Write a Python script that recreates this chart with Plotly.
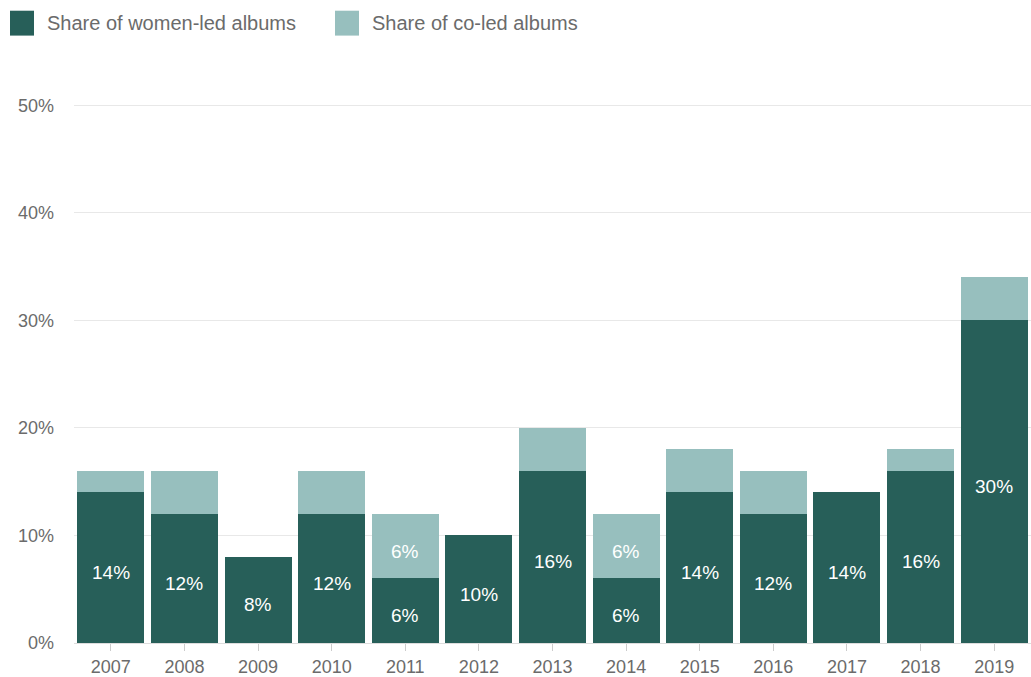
import plotly.graph_objects as go

years = ["2007", "2008", "2009", "2010", "2011", "2012", "2013",
         "2014", "2015", "2016", "2017", "2018", "2019"]
women_led = [14, 12, 8, 12, 6, 10, 16, 6, 14, 12, 14, 16, 30]
co_led = [2, 4, 0, 4, 6, 0, 4, 6, 4, 4, 0, 2, 4]
co_led_labels = ["", "", "", "", "6%", "", "", "6%", "", "", "", "", ""]
series_names = ["Share of women-led albums", "Share of co-led albums"]
y_ticks = [0, 10, 20, 30, 40, 50]

DARK = "#275f59"
LIGHT = "#97bfbe"
GREY = "#6b6b6b"
FONT = "Liberation Sans, Arial, sans-serif"

fig = go.Figure()
fig.add_trace(go.Bar(
    x=years, y=women_led, name=series_names[0], marker_color=DARK,
    hoverinfo="x+y", marker_line_width=0,
))
fig.add_trace(go.Bar(
    x=years, y=co_led, name=series_names[1], marker_color=LIGHT,
    hoverinfo="x+y", marker_line_width=0,
))

PL, PR, PT, PB = 74, 1031, 105, 645
Y_MAX = 50.4
pw = PR - PL
ph = (PB - PT) * Y_MAX / 50
top_px = PB - ph


def px_to_paper_x(px):
    return (px - PL) / pw


def px_to_paper_y(py):
    return (PB - py) / ph


annotations = []
# bar value labels, centred in each segment (slightly lowered as in reference)
for i, (w, c, cl) in enumerate(zip(women_led, co_led, co_led_labels)):
    annotations.append(dict(x=i, y=w / 2, xref="x", yref="y", text=f"{w}%",
                            showarrow=False, yshift=-5,
                            font=dict(size=19, color="white", family=FONT)))
    if cl:
        annotations.append(dict(x=i, y=w + c / 2, xref="x", yref="y", text=cl,
                                showarrow=False, yshift=-5,
                                font=dict(size=19, color="white", family=FONT)))

legend_items = [(10, series_names[0], DARK), (335, series_names[1], LIGHT)]
shapes = []
for x0, label, col in legend_items:
    shapes.append(dict(type="rect", xref="paper", yref="paper",
                       x0=px_to_paper_x(x0), x1=px_to_paper_x(x0 + 24),
                       y0=px_to_paper_y(35), y1=px_to_paper_y(10),
                       fillcolor=col, line_width=0, layer="above"))
    annotations.append(dict(xref="paper", yref="paper",
                            x=px_to_paper_x(x0 + 35), y=px_to_paper_y(22),
                            xanchor="left", yanchor="middle", showarrow=False,
                            text=label,
                            font=dict(size=20, color=GREY, family=FONT)))

fig.update_layout(
    barmode="stack",
    bargap=0.09,
    width=1031, height=677,
    margin=dict(l=PL, r=1031 - PR, t=round(top_px), b=677 - PB),
    plot_bgcolor="white", paper_bgcolor="white",
    showlegend=False,
    shapes=shapes,
    annotations=annotations,
    font=dict(family=FONT, color=GREY, size=18),
    xaxis=dict(
        type="category",
        range=[-0.5, len(years) - 0.5],
        showgrid=False, showline=True, linecolor="#dddddd", linewidth=1,
        ticks="outside", tickcolor="#cccccc", ticklen=7,
        tickfont=dict(size=18, color=GREY),
    ),
    yaxis=dict(
        range=[0, Y_MAX], tickvals=y_ticks,
        ticktext=[f"{v}%" for v in y_ticks],
        showgrid=True, gridcolor="#e8e8e8", zeroline=False,
        tickfont=dict(size=18, color=GREY),
        ticklabelstandoff=19,
    ),
)

fig.write_html("out.html")
